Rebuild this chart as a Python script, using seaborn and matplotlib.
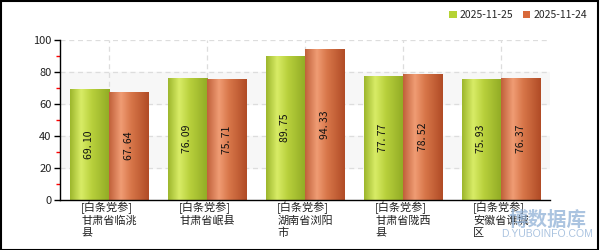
import numpy as np
import pandas as pd
import matplotlib
matplotlib.use("Agg")
import matplotlib.pyplot as plt
from matplotlib.colors import LinearSegmentedColormap
from matplotlib.patches import Patch, Rectangle
import seaborn as sns

categories = ["[白条党参]\n甘肃省临洮\n县", "[白条党参]\n甘肃省岷县", "[白条党参]\n湖南省浏阳\n市",
              "[白条党参]\n甘肃省陇西\n县", "[白条党参]\n安徽省谯城\n区"]
series_names = ["2025-11-25", "2025-11-24"]
values_1125 = [69.10, 76.09, 89.75, 77.77, 75.93]
values_1124 = [67.64, 75.71, 94.33, 78.52, 76.37]
y_ticks = [0, 20, 40, 60, 80, 100]

sns.set_theme(style="white")
plt.rcParams['font.family'] = ['Noto Sans CJK SC', 'DejaVu Sans']

df = pd.DataFrame({
    "cat": categories * 2,
    "series": [series_names[0]] * 5 + [series_names[1]] * 5,
    "value": values_1125 + values_1124,
})

base_colors = {series_names[0]: "#b5d334", series_names[1]: "#d8693a"}
grad_stops = {
    series_names[0]: [(0.0, "#9cb62c"), (0.28, "#d8ec66"), (0.55, "#b8d03c"), (1.0, "#90aa24")],
    series_names[1]: [(0.0, "#c0603a"), (0.3, "#f09c74"), (0.55, "#d8774a"), (1.0, "#b04b26")],
}

fig = plt.figure(figsize=(6, 2.5), dpi=100)
ax = fig.add_axes([0.1, 0.2, 0.8167, 0.64])

sns.barplot(data=df, x="cat", y="value", hue="series", order=categories,
            hue_order=series_names, palette=base_colors, width=0.8,
            ax=ax, legend=False, saturation=1, linewidth=0)

ax.set_xlim(-0.5, 4.5)
ax.set_ylim(0, 100)

# background bands and grid
for lo, hi in [(20, 40), (60, 80)]:
    ax.axhspan(lo, hi, color="#f7f7f7", zorder=0)
for yv in [20, 40, 60, 80, 100]:
    ax.axhline(yv, color="#dddddd", lw=0.9, ls=(0, (4, 3)), zorder=0.5)
for xv in range(5):
    ax.axvline(xv, color="#dddddd", lw=0.9, ls=(0, (4, 3)), zorder=0.5)

# gradient fill on bars + labels
for i, patch in enumerate(ax.patches[:10]):
    s = series_names[i // 5]
    cmap = LinearSegmentedColormap.from_list("g" + s, grad_stops[s])
    x0 = patch.get_x(); w = patch.get_width(); h = patch.get_height()
    if h <= 0:
        continue
    grad = np.linspace(0, 1, 256).reshape(1, -1)
    im = ax.imshow(grad, cmap=cmap, extent=(x0, x0 + w, 0, h), aspect="auto",
                   zorder=patch.get_zorder() + 0.1, interpolation="bilinear")
    im.set_clip_path(patch)
    txt = f"{h:.2f}".replace(".", ". ")
    ax.text(x0 + w / 2, h / 2, txt, rotation=90, ha="center", va="center",
            fontsize=7.5, color="#111111", zorder=5)

ax.set_xlim(-0.5, 4.5)
ax.set_ylim(0, 100)

ax.set_xlabel("")
ax.set_ylabel("")
ax.set_yticks(y_ticks)
ax.set_yticklabels([str(t) for t in y_ticks], fontsize=8, color="#222222")
ax.set_yticks([10, 30, 50, 70, 90], minor=True)
ax.tick_params(axis="y", which="major", length=4, width=1, color="black", pad=2, left=True)
ax.tick_params(axis="y", which="minor", length=3, width=1, color="red", left=True)
ax.set_xticks(range(5))
ax.set_xticklabels(categories, fontsize=8, color="#222222", linespacing=1.2,
                   multialignment="left")
ax.tick_params(axis="x", length=0, pad=1)

for sp in ["top", "right"]:
    ax.spines[sp].set_visible(False)
for sp in ["left", "bottom"]:
    ax.spines[sp].set_color("black")
    ax.spines[sp].set_linewidth(1)

handles = [Patch(facecolor=base_colors[s], edgecolor="none") for s in series_names]
fig.legend(handles, series_names, loc="upper right", bbox_to_anchor=(0.985, 0.975),
           ncol=2, frameon=False, fontsize=7.5, handlelength=0.7, handleheight=0.7,
           handletextpad=0.3, columnspacing=0.9, borderaxespad=0)

# watermark
fig.text(0.912, 0.12, "博数据库", fontsize=14, color="#8fb0d6", alpha=0.75,
         ha="center", va="center", fontweight="bold")
fig.text(0.912, 0.064, "D.YUBOINFO.COM", fontsize=7.5, color="#8fb0d6", alpha=0.75,
         ha="center", va="center", family=["Liberation Sans", "DejaVu Sans"])

fig.patches.append(Rectangle((0.001, 0.002), 0.996, 0.994, transform=fig.transFigure,
                             fill=False, edgecolor="black", lw=1.5))

fig.savefig("out.png", dpi=100)
